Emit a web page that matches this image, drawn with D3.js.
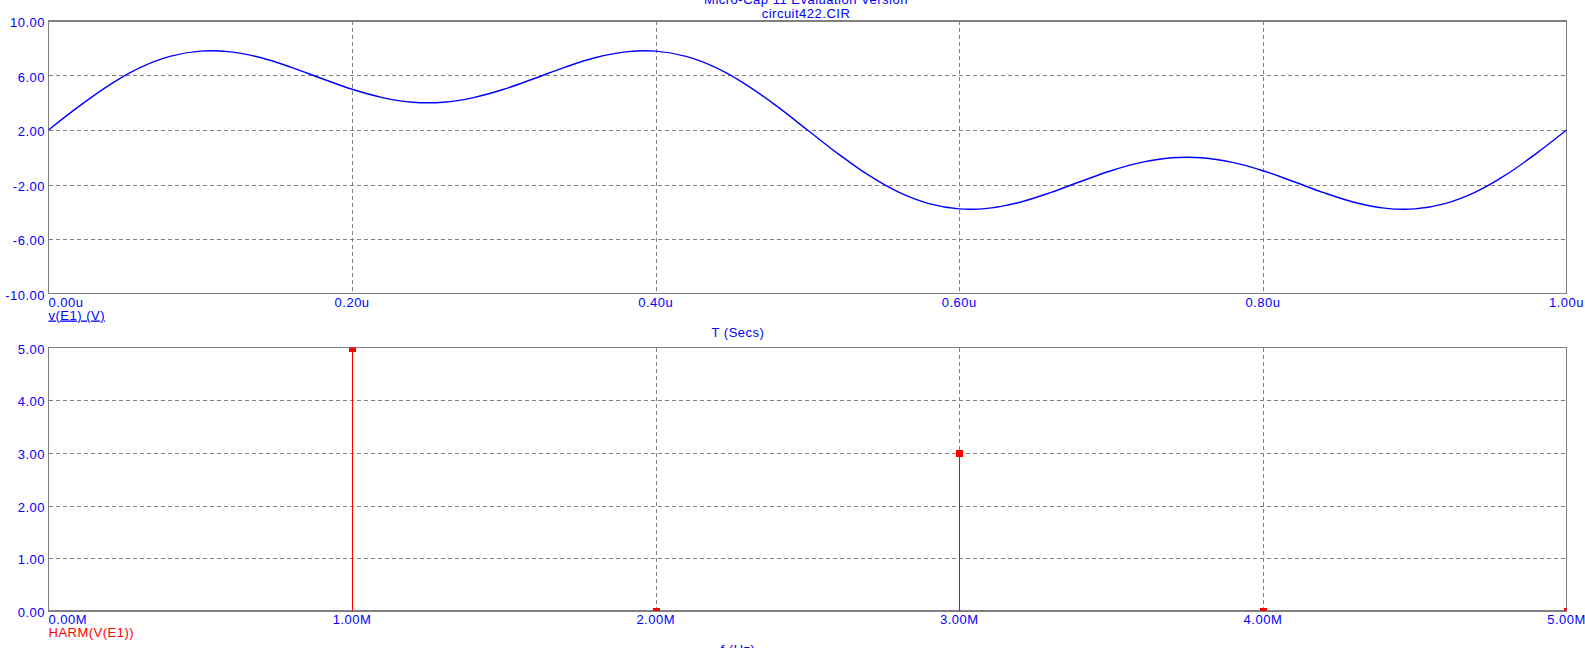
<!DOCTYPE html>
<html><head><meta charset="utf-8">
<script src="https://cdn.jsdelivr.net/npm/d3@7"></script>
<style>
html,body{margin:0;padding:0;background:#fff;overflow:hidden}
text{font-family:"Liberation Sans",Arial,sans-serif;font-size:13px;letter-spacing:0.5px}
</style></head>
<body>
<svg id="c" width="1585" height="648"></svg>
<script>
// ---- data ----
const titleLines = ["Micro-Cap 11 Evaluation Version", "circuit422.CIR"];
const timeUs = [0,0.02,0.04,0.06,0.08,0.10,0.12,0.14,0.16,0.18,0.20,0.22,0.24,0.26,0.28,0.30,0.32,0.34,0.36,0.38,0.40,0.42,0.44,0.46,0.48,0.50,0.52,0.54,0.56,0.58,0.60,0.62,0.64,0.66,0.68,0.70,0.72,0.74,0.76,0.78,0.80,0.82,0.84,0.86,0.88,0.90,0.92,0.94,0.96,0.98,1.00];
const vE1 = [2.00,3.73,5.30,6.56,7.40,7.79,7.73,7.30,6.60,5.78,4.99,4.38,4.04,4.04,4.38,4.99,5.78,6.60,7.30,7.73,7.79,7.40,6.56,5.30,3.73,2.00,0.27,-1.30,-2.56,-3.40,-3.79,-3.73,-3.30,-2.60,-1.78,-0.99,-0.38,-0.04,-0.04,-0.38,-0.99,-1.78,-2.60,-3.30,-3.73,-3.79,-3.40,-2.56,-1.30,0.27,2.00];
const topXTicks = [0,0.2,0.4,0.6,0.8,1.0];
const topXTickLabels = ["0.00u","0.20u","0.40u","0.60u","0.80u","1.00u"];
const topYTicks = [10,6,2,-2,-6,-10];
const topYTickLabels = ["10.00","6.00","2.00","-2.00","-6.00","-10.00"];
const harmFreqMHz = [1,2,3,4,5];
const harmValues = [5.00,0.00,3.00,0.00,0.00];
const botXTicks = [0,1,2,3,4,5];
const botXTickLabels = ["0.00M","1.00M","2.00M","3.00M","4.00M","5.00M"];
const botYTicks = [5,4,3,2,1,0];
const botYTickLabels = ["5.00","4.00","3.00","2.00","1.00","0.00"];
const topXLabel = "T (Secs)", topYLabel = "v(E1) (V)";
const botXLabel = "f (Hz)", botYLabel = "HARM(V(E1))";

// ---- layout ----
const svg = d3.select("#c");
const BLUE = "#0000ff", RED = "#ff0000", GRID = "#808080";
const L = 48.5, R = 1566.5;
const panTop = {y0: 21, y1: 293.5}, panBot = {y0: 347.5, y1: 611};

svg.append("rect").attr("width",1585).attr("height",648).attr("fill","#fff");

// title
svg.selectAll("text.title").data(titleLines).enter().append("text")
  .attr("x", 806).attr("y", (d,i)=> 4 + i*13.5).attr("text-anchor","middle")
  .attr("fill", BLUE).text(d=>d);

function panel(p, xDomain, yDomain, xTicks, xLabels, yTicks, yLabels, id){
  const x = d3.scaleLinear().domain(xDomain).range([L, R]);
  const y = d3.scaleLinear().domain(yDomain).range([p.y1, p.y0]);
  const g = svg.append("g");
  svg.append("clipPath").attr("id", id).append("rect")
    .attr("x", L).attr("y", p.y0).attr("width", R-L).attr("height", p.y1-p.y0);
  const inner = (arr, dom)=> arr.filter(v=> v>Math.min(...dom) && v<Math.max(...dom));
  g.selectAll("line.gx").data(inner(xTicks, xDomain)).enter().append("line")
    .attr("x1", d=>Math.round(x(d))+0.5).attr("x2", d=>Math.round(x(d))+0.5)
    .attr("y1", p.y0).attr("y2", p.y1)
    .attr("stroke", GRID).attr("stroke-dasharray","4,3").attr("shape-rendering","crispEdges");
  g.selectAll("line.gy").data(inner(yTicks, yDomain)).enter().append("line")
    .attr("y1", d=>Math.round(y(d))+0.5).attr("y2", d=>Math.round(y(d))+0.5)
    .attr("x1", L).attr("x2", R)
    .attr("stroke", GRID).attr("stroke-dasharray","4,3").attr("shape-rendering","crispEdges");
  g.append("rect").attr("x", L).attr("y", p.y0).attr("width", R-L).attr("height", p.y1-p.y0)
    .attr("fill","none").attr("stroke", GRID).attr("stroke-width",1.2).attr("shape-rendering","crispEdges");
  g.selectAll("text.yt").data(yTicks).enter().append("text")
    .attr("x", 45).attr("y", d=> y(d) + 6).attr("text-anchor","end")
    .attr("fill", BLUE).text((d,i)=> yLabels[i]);
  g.selectAll("text.xt").data(xTicks).enter().append("text")
    .attr("x", d=> x(d)).attr("y", p.y1 + 13)
    .attr("text-anchor", (d,i)=> i===0 ? "start" : "middle")
    .attr("fill", BLUE).text((d,i)=> xLabels[i]);
  return {x, y, g};
}

// top panel
const P1 = panel(panTop, [0,1], [-10,10], topXTicks, topXTickLabels, topYTicks, topYTickLabels, "clip1");
const line = d3.line().x((d,i)=>P1.x(timeUs[i])).y(d=>P1.y(d)).curve(d3.curveCatmullRom);
P1.g.append("path").datum(vE1).attr("d", line).attr("fill","none")
  .attr("stroke", BLUE).attr("stroke-width",1.4).attr("clip-path","url(#clip1)");
svg.append("text").attr("x", 738).attr("y", panTop.y1 + 43).attr("text-anchor","middle")
  .attr("fill", BLUE).text(topXLabel);
svg.append("text").attr("x", L).attr("y", panTop.y1 + 26).attr("fill", BLUE)
  .attr("text-decoration","underline").text(topYLabel);

// bottom panel
const P2 = panel(panBot, [0,5], [0,5], botXTicks, botXTickLabels, botYTicks, botYTickLabels, "clip2");
const sg = P2.g.append("g").attr("clip-path","url(#clip2)");
sg.selectAll("line.stem").data(harmValues).enter().append("line")
  .attr("x1",(d,i)=>Math.round(P2.x(harmFreqMHz[i]))+0.5).attr("x2",(d,i)=>Math.round(P2.x(harmFreqMHz[i]))+0.5)
  .attr("y1", d=>P2.y(d)).attr("y2", P2.y(0))
  .attr("stroke", RED).attr("stroke-width",1.2).attr("shape-rendering","crispEdges");
sg.selectAll("rect.mk").data(harmValues).enter().append("rect")
  .attr("x",(d,i)=>Math.round(P2.x(harmFreqMHz[i]))-3).attr("y", d=>Math.round(P2.y(d))-3)
  .attr("width",7).attr("height",7).attr("fill", RED);
svg.append("text").attr("x", 738).attr("y", panBot.y1 + 43).attr("text-anchor","middle")
  .attr("fill", BLUE).text(botXLabel);
svg.append("text").attr("x", L).attr("y", panBot.y1 + 26).attr("fill", RED).text(botYLabel);
</script>
</body></html>
